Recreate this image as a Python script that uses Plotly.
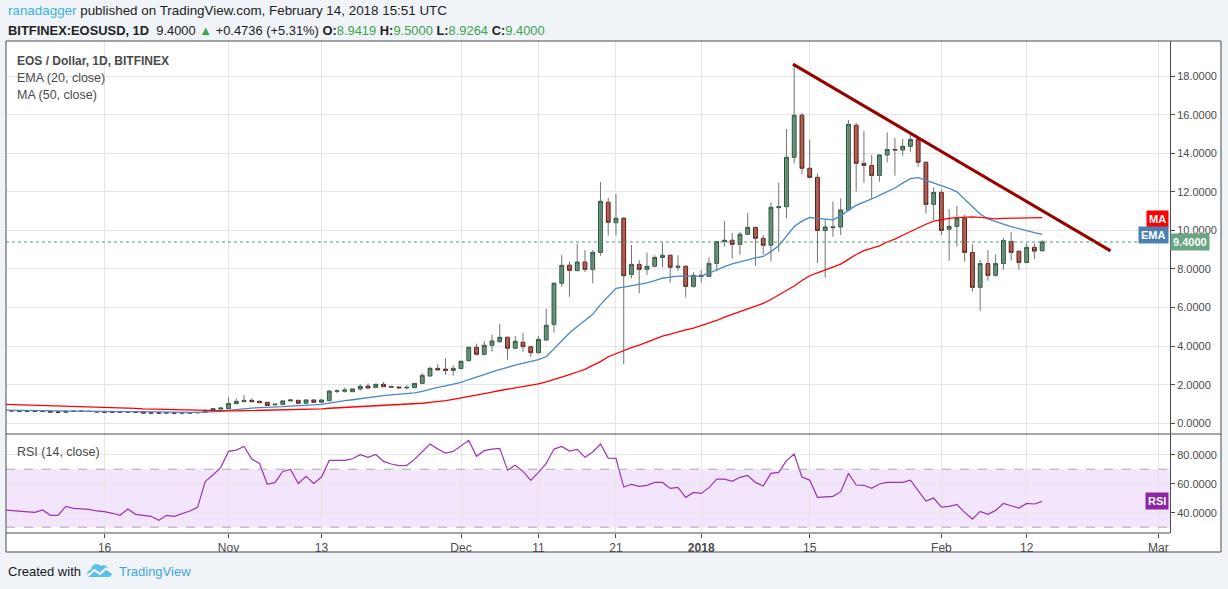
import pandas as pd
import plotly.graph_objects as go

# ---------------- data ----------------
start_date = "2017-10-03"

opens = [0.66, 0.66, 0.62, 0.63, 0.63, 0.61, 0.62, 0.59, 0.57, 0.63,
         0.62, 0.62, 0.61, 0.59, 0.59, 0.59, 0.58, 0.59, 0.59, 0.54,
         0.54, 0.53, 0.54, 0.53, 0.53, 0.54, 0.57, 0.67, 0.74, 0.76,
         1.02, 1.12, 1.19, 1.14, 1.09, 0.96, 0.98, 1.16, 1.19, 1.04,
         1.21, 1.09, 1.17, 1.66, 1.66, 1.64, 1.78, 1.93, 1.85, 2.02,
         1.90, 1.88, 1.84, 1.85, 2.07, 2.45, 2.85, 2.81, 2.74, 2.84,
         3.25, 3.94, 3.58, 4.04, 4.23, 4.46, 3.89, 4.20, 3.97, 3.66,
         4.32, 5.13, 7.26, 8.20, 7.91, 8.36, 7.98, 8.86, 11.46, 10.40,
         10.63, 7.72, 8.24, 7.98, 8.14, 8.60, 8.71, 8.09, 8.14, 7.10,
         7.67, 7.62, 8.29, 9.42, 9.49, 9.28, 9.80, 10.16, 9.59, 9.23,
         11.18, 11.23, 13.79, 15.97, 13.22, 12.75, 9.99, 10.14, 10.18, 11.06,
         15.45, 13.48, 13.37, 12.85, 13.91, 14.20, 14.17, 14.36, 14.72, 13.53,
         11.35, 11.97, 10.06, 10.21, 10.63, 8.86, 7.05, 8.28, 7.67, 8.28,
         9.43, 8.92, 8.34, 9.12, 8.9419]
highs = [0.68, 0.68, 0.64, 0.64, 0.64, 0.64, 0.63, 0.60, 0.63, 0.64,
         0.64, 0.63, 0.62, 0.60, 0.60, 0.60, 0.60, 0.60, 0.60, 0.55,
         0.55, 0.55, 0.55, 0.55, 0.55, 0.57, 0.68, 0.79, 0.81, 1.35,
         1.29, 1.46, 1.29, 1.17, 1.10, 1.00, 1.17, 1.26, 1.22, 1.23,
         1.23, 1.23, 1.72, 1.76, 1.86, 1.80, 2.02, 2.07, 2.05, 2.14,
         1.96, 1.90, 1.98, 2.09, 2.60, 2.93, 3.07, 3.37, 3.00, 3.27,
         3.97, 4.13, 4.27, 4.59, 5.15, 4.50, 4.53, 4.68, 4.00, 4.53,
         5.93, 7.30, 8.72, 8.38, 9.31, 8.98, 8.98, 12.51, 11.68, 11.89,
         10.70, 9.24, 8.47, 8.85, 8.71, 9.38, 8.75, 8.71, 8.20, 7.83,
         7.95, 8.60, 9.45, 10.49, 9.87, 9.92, 10.90, 10.20, 9.76, 11.46,
         12.47, 15.26, 18.61, 16.10, 14.69, 12.96, 10.57, 11.49, 11.66, 15.72,
         15.57, 15.15, 13.91, 13.95, 15.08, 14.79, 14.74, 14.95, 14.75, 13.60,
         12.23, 12.13, 11.11, 11.27, 10.80, 9.28, 8.47, 8.98, 8.76, 9.61,
         9.92, 8.95, 9.33, 9.33, 9.50]
lows = [0.64, 0.62, 0.61, 0.61, 0.61, 0.60, 0.57, 0.56, 0.56, 0.61,
        0.61, 0.60, 0.58, 0.57, 0.57, 0.57, 0.57, 0.57, 0.52, 0.52,
        0.52, 0.52, 0.52, 0.52, 0.52, 0.53, 0.56, 0.65, 0.72, 0.75,
        0.98, 1.10, 1.08, 1.05, 0.92, 0.94, 0.96, 1.14, 1.02, 1.02,
        1.07, 1.07, 1.15, 1.56, 1.59, 1.62, 1.69, 1.80, 1.83, 1.87,
        1.84, 1.82, 1.75, 1.84, 2.03, 2.43, 2.73, 2.52, 2.47, 2.80,
        3.21, 3.51, 3.51, 3.71, 4.18, 3.30, 3.85, 3.71, 3.45, 3.62,
        4.28, 4.70, 7.08, 6.56, 7.90, 7.84, 7.26, 8.69, 9.73, 9.73,
        3.06, 7.52, 6.74, 7.69, 8.09, 8.09, 7.29, 7.91, 6.53, 7.03,
        7.29, 7.60, 7.88, 9.16, 8.53, 8.74, 9.78, 8.17, 8.76, 8.38,
        8.90, 10.63, 13.48, 12.91, 12.70, 8.31, 7.55, 9.67, 9.76, 11.00,
        12.01, 12.47, 11.63, 12.53, 13.53, 12.84, 13.87, 14.08, 13.30, 10.87,
        10.54, 9.76, 8.43, 9.16, 8.38, 6.82, 5.84, 7.39, 7.60, 7.95,
        8.43, 7.96, 8.30, 8.52, 8.9264]
closes = [0.65, 0.64, 0.63, 0.62, 0.62, 0.62, 0.58, 0.57, 0.62, 0.62,
          0.63, 0.61, 0.59, 0.58, 0.58, 0.58, 0.59, 0.58, 0.53, 0.53,
          0.53, 0.54, 0.53, 0.54, 0.54, 0.56, 0.67, 0.76, 0.79, 1.03,
          1.14, 1.19, 1.12, 1.07, 0.93, 0.99, 1.16, 1.21, 1.04, 1.21,
          1.09, 1.21, 1.67, 1.68, 1.73, 1.78, 1.92, 1.83, 2.02, 1.90,
          1.88, 1.84, 1.86, 2.07, 2.49, 2.85, 2.77, 2.74, 2.85, 3.21,
          3.94, 3.58, 4.04, 4.27, 4.46, 3.89, 4.25, 3.97, 3.66, 4.35,
          5.08, 7.26, 8.19, 7.93, 8.36, 7.98, 8.86, 11.51, 10.42, 10.63,
          7.65, 8.24, 7.98, 8.14, 8.60, 8.71, 8.09, 8.14, 7.10, 7.67,
          7.62, 8.29, 9.42, 9.49, 9.28, 9.80, 10.16, 9.59, 9.23, 11.20,
          11.23, 13.79, 15.97, 13.22, 12.75, 10.00, 10.18, 10.18, 11.06, 15.50,
          13.48, 13.37, 12.85, 13.91, 14.20, 14.17, 14.36, 14.72, 13.53, 11.35,
          11.97, 10.00, 10.21, 10.63, 8.86, 7.05, 8.28, 7.67, 8.28, 9.47,
          8.86, 8.34, 9.12, 8.9264, 9.40]
ema20 = [0.68, 0.67, 0.66, 0.66, 0.65, 0.65, 0.64, 0.63, 0.63, 0.63,
         0.63, 0.62, 0.62, 0.61, 0.61, 0.61, 0.60, 0.60, 0.59, 0.59,
         0.58, 0.58, 0.58, 0.57, 0.57, 0.57, 0.58, 0.60, 0.62, 0.67,
         0.72, 0.76, 0.79, 0.81, 0.82, 0.84, 0.86, 0.89, 0.90, 0.93,
         0.95, 0.98, 1.05, 1.11, 1.17, 1.22, 1.28, 1.33, 1.38, 1.43,
         1.47, 1.50, 1.53, 1.58, 1.66, 1.77, 1.86, 1.94, 2.02, 2.12,
         2.27, 2.38, 2.52, 2.66, 2.80, 2.90, 3.02, 3.12, 3.20, 3.30,
         3.45, 3.85, 4.30, 4.68, 5.02, 5.32, 5.65, 6.15, 6.60, 7.00,
         7.06, 7.14, 7.20, 7.28, 7.40, 7.52, 7.58, 7.63, 7.63, 7.62,
         7.63, 7.78, 7.97, 8.12, 8.26, 8.38, 8.50, 8.58, 8.65, 8.90,
         9.20, 9.70, 10.20, 10.48, 10.67, 10.62, 10.58, 10.55, 10.75, 11.05,
         11.30, 11.45, 11.63, 11.82, 12.00, 12.20, 12.45, 12.68, 12.74, 12.60,
         12.48, 12.33, 12.18, 12.00, 11.62, 11.20, 10.85, 10.60, 10.45, 10.33,
         10.20, 10.08, 9.96, 9.88, 9.80]
ma50 = [0.98, 0.97, 0.96, 0.95, 0.93, 0.92, 0.91, 0.89, 0.88, 0.86,
        0.85, 0.84, 0.82, 0.81, 0.80, 0.79, 0.78, 0.77, 0.75, 0.74,
        0.72, 0.71, 0.69, 0.68, 0.66, 0.65, 0.64, 0.64, 0.64, 0.64,
        0.64, 0.65, 0.65, 0.65, 0.66, 0.66, 0.67, 0.68, 0.69, 0.71,
        0.73, 0.75, 0.78, 0.80, 0.82, 0.84, 0.86, 0.88, 0.89, 0.90,
        0.92, 0.94, 0.97, 1.00, 1.04, 1.08, 1.12, 1.17, 1.24, 1.31,
        1.38, 1.45, 1.53, 1.62, 1.70, 1.77, 1.84, 1.90, 1.96, 2.04,
        2.15, 2.26, 2.38, 2.52, 2.66, 2.80, 3.00, 3.20, 3.45, 3.62,
        3.76, 3.92, 4.05, 4.20, 4.38, 4.52, 4.62, 4.74, 4.84, 4.93,
        5.05, 5.18, 5.33, 5.50, 5.64, 5.78, 5.95, 6.08, 6.22, 6.42,
        6.65, 6.88, 7.12, 7.40, 7.65, 7.80, 7.95, 8.10, 8.25, 8.50,
        8.75, 8.95, 9.07, 9.20, 9.40, 9.55, 9.75, 9.95, 10.15, 10.32,
        10.48, 10.56, 10.62, 10.66, 10.68, 10.70, 10.68, 10.63, 10.60, 10.62,
        10.63, 10.61, 10.62, 10.64, 10.66]
rsi14 = [41.9, 41.5, 41.0, 40.8, 40.3, 41.9, 38.2, 38.2, 44.4, 43.0,
         42.6, 42.3, 41.2, 40.7, 39.6, 38.2, 42.6, 38.9, 38.2, 37.5,
         34.8, 38.2, 37.5, 39.1, 41.2, 43.7, 61.6, 66.0, 71.3, 82.3,
         83.2, 85.7, 77.0, 74.0, 59.6, 60.9, 68.5, 69.9, 60.2, 65.1,
         60.2, 64.6, 76.1, 76.1, 76.1, 77.2, 80.0, 78.2, 80.2, 75.4,
         73.6, 72.5, 72.7, 76.8, 82.0, 87.4, 83.9, 81.1, 82.3, 86.0,
         89.9, 78.9, 82.8, 83.9, 84.4, 69.4, 72.7, 68.5, 62.3, 67.8,
         74.0, 83.9, 85.7, 82.5, 83.7, 78.2, 81.9, 87.4, 77.7, 77.5,
         57.7, 59.6, 58.2, 58.9, 60.9, 60.9, 56.8, 57.5, 50.6, 54.0,
         53.3, 57.3, 63.2, 63.2, 61.6, 64.4, 65.7, 60.9, 58.4, 67.1,
         67.8, 75.9, 80.5, 64.6, 62.5, 50.6, 51.0, 51.3, 54.5, 67.1,
         59.1, 58.9, 56.8, 59.8, 60.9, 60.9, 60.9, 62.5, 55.6, 48.0,
         50.1, 43.9, 44.4, 45.7, 40.2, 35.6, 40.9, 38.9, 41.6, 46.4,
         44.8, 43.2, 46.4, 46.0, 47.8]

tick_dates = ["2017-10-16", "2017-11-01", "2017-11-13", "2017-12-01", "2017-12-11",
              "2017-12-21", "2018-01-01", "2018-01-15", "2018-02-01", "2018-02-12",
              "2018-03-01"]
tick_labels = ["16", "Nov", "13", "Dec", "11", "21", "<b>2018</b>", "15", "Feb", "12", "Mar"]
price_ticks = [0, 2, 4, 6, 8, 10, 12, 14, 16, 18]
rsi_ticks = [40, 60, 80]
rsi_bands = [30, 70]
trend_x = ["2018-01-12 20:00", "2018-02-22 20:00"]
trend_y = [18.62, 8.94]
last_price = 9.40

dates = pd.date_range(start_date, periods=len(closes), freq="D")

# ---------------- geometry helpers (pixel -> paper) ----------------
W, H = 1228, 589
L, R, T, B = 6, 58, 41, 56
PW, PH = W - L - R, H - T - B


def px(xp):
    return (xp - L) / PW


def py(yp):
    return 1 - (yp - T) / PH


split = py(434)

UP_FILL, UP_LINE = "#6ba583", "#225437"
DN_FILL, DN_LINE = "#d75442", "#5b1a13"
WICK = "#737375"
EMA_C = "#4a86c4"
MA_C = "#ff0000"
RSI_C = "#9c33b8"
GRID = "#e6e6e6"
AXIS = "#4d4d4d"
TXT = "#4a4a4a"
GREEN_TXT = "#3fa34d"

fig = go.Figure()

# wicks
wx, wy = [], []
for d, lo, hi in zip(dates, lows, highs):
    wx += [d, d, None]
    wy += [lo, hi, None]
fig.add_trace(go.Scatter(x=wx, y=wy, mode="lines", line=dict(color=WICK, width=1),
                         hoverinfo="skip", showlegend=False, xaxis="x", yaxis="y"))

# bodies
body_hi = [max(o, c) for o, c in zip(opens, closes)]
body_lo = [min(o, c) for o, c in zip(opens, closes)]
fig.add_trace(go.Candlestick(
    x=dates, open=opens, high=body_hi, low=body_lo, close=closes,
    increasing=dict(fillcolor=UP_FILL, line=dict(color=UP_LINE, width=1)),
    decreasing=dict(fillcolor=DN_FILL, line=dict(color=DN_LINE, width=1)),
    whiskerwidth=0, showlegend=False, xaxis="x", yaxis="y"))

fig.add_trace(go.Scatter(x=dates, y=ema20, mode="lines", line=dict(color=EMA_C, width=1.3),
                         showlegend=False, xaxis="x", yaxis="y"))
fig.add_trace(go.Scatter(x=dates, y=ma50, mode="lines", line=dict(color=MA_C, width=1.3),
                         showlegend=False, xaxis="x", yaxis="y"))
fig.add_trace(go.Scatter(x=pd.to_datetime(trend_x), y=trend_y, mode="lines",
                         line=dict(color="#960000", width=3),
                         showlegend=False, xaxis="x", yaxis="y"))
fig.add_trace(go.Scatter(x=dates, y=rsi14, mode="lines", line=dict(color=RSI_C, width=1.2),
                         showlegend=False, xaxis="x", yaxis="y2"))

shapes = []
# white chart card
shapes.append(dict(type="rect", xref="paper", yref="paper", x0=px(6), x1=px(1221),
                   y0=py(552), y1=py(41), fillcolor="white", line=dict(width=0), layer="below"))
# rsi band
shapes.append(dict(type="rect", xref="x domain", yref="y2", x0=0, x1=1, y0=rsi_bands[0],
                   y1=rsi_bands[1], fillcolor="#f3e6fc", line=dict(width=0), layer="below"))
for b in rsi_bands:
    shapes.append(dict(type="line", xref="x domain", yref="y2", x0=0, x1=1, y0=b, y1=b,
                       line=dict(color="#aaa4b0", width=1, dash="dash")))
# last price dotted line
shapes.append(dict(type="line", xref="x domain", yref="y", x0=0, x1=1, y0=last_price,
                   y1=last_price, line=dict(color="#4f9a6c", width=1, dash="dot")))
# frame
shapes.append(dict(type="rect", xref="paper", yref="paper", x0=px(6), x1=px(1221),
                   y0=py(552), y1=py(41), line=dict(color=AXIS, width=1)))
shapes.append(dict(type="line", xref="paper", yref="paper", x0=px(6), x1=px(1221),
                   y0=py(434), y1=py(434), line=dict(color=AXIS, width=1)))
shapes.append(dict(type="line", xref="paper", yref="paper", x0=px(6), x1=px(1170),
                   y0=py(533), y1=py(533), line=dict(color=AXIS, width=1)))


def path(points, close=True):
    s = "M " + " L ".join(f"{px(a):.5f},{py(b):.5f}" for a, b in points)
    return s + (" Z" if close else "")


# TradingView logo (cloud + zigzag)
cloud = [(89, 577), (87, 574), (88, 571), (91, 569.5), (92, 566.5), (95, 564), (99, 564.5),
         (101, 566), (104, 565), (107, 566.5), (108.5, 569.5), (111, 571), (112, 574),
         (110, 577)]
shapes.append(dict(type="path", xref="paper", yref="paper", path=path(cloud),
                   fillcolor="#5cc0ea", line=dict(width=0)))
shapes.append(dict(type="path", xref="paper", yref="paper",
                   path=path([(88, 575.5), (94.5, 570), (100, 574), (106, 568.5), (112, 572.5)], close=False),
                   line=dict(color="white", width=2)))

ann = []
FONT = "Liberation Sans"
ann.append(dict(x=px(6), y=py(11), xref="paper", yref="paper", xanchor="left", yanchor="middle",
                showarrow=False,
                text="<span style='color:#3bb3e4'>ranadagger</span> published on TradingView.com, "
                     "February 14, 2018 15:51 UTC",
                font=dict(family=FONT, size=13.4, color="#222222")))
g = lambda s: f"<span style='color:{GREEN_TXT}'>{s}</span>"
ann.append(dict(x=px(6), y=py(30.5), xref="paper", yref="paper", xanchor="left", yanchor="middle",
                showarrow=False,
                text="<b>BITFINEX:EOSUSD, 1D</b>  9.4000 " + g("▲") + " +0.4736 (+5.31%) "
                     "<b>O:</b>" + g("8.9419") + " <b>H:</b>" + g("9.5000") + " <b>L:</b>"
                     + g("8.9264") + " <b>C:</b>" + g("9.4000"),
                font=dict(family=FONT, size=12.9, color="#222222")))
ann.append(dict(x=px(15), y=py(60.5), xref="paper", yref="paper", xanchor="left", yanchor="middle",
                showarrow=False, text="<b>EOS / Dollar, 1D, BITFINEX</b>",
                font=dict(family=FONT, size=12, color=TXT)))
ann.append(dict(x=px(15), y=py(78), xref="paper", yref="paper", xanchor="left", yanchor="middle",
                showarrow=False, text="EMA (20, close)", font=dict(family=FONT, size=12.5, color=TXT)))
ann.append(dict(x=px(15), y=py(95), xref="paper", yref="paper", xanchor="left", yanchor="middle",
                showarrow=False, text="MA (50, close)", font=dict(family=FONT, size=12.5, color=TXT)))
ann.append(dict(x=px(15), y=py(452), xref="paper", yref="paper", xanchor="left", yanchor="middle",
                showarrow=False, text="RSI (14, close)", font=dict(family=FONT, size=12.5, color=TXT)))

# right-side labels
ann.append(dict(x=px(1169), y=py(219), xref="paper", yref="paper", xanchor="right", yanchor="middle",
                showarrow=False, text="<b>MA</b>", bgcolor="#ff0000", borderpad=2,
                font=dict(family=FONT, size=11, color="white")))
ann.append(dict(x=px(1169), y=py(235), xref="paper", yref="paper", xanchor="right", yanchor="middle",
                showarrow=False, text="<b>EMA</b>", bgcolor="#4a7fb3", borderpad=2,
                font=dict(family=FONT, size=11, color="white")))
ann.append(dict(x=px(1170), y=last_price, xref="paper", yref="y", xanchor="left", yanchor="middle",
                showarrow=False, text="<b>9.4000</b>", bgcolor="#6ba583", borderpad=2,
                font=dict(family=FONT, size=11, color="white")))
ann.append(dict(x=px(1169), y=rsi14[-1], xref="paper", yref="y2", xanchor="right", yanchor="middle",
                showarrow=False, text="<b>RSI</b>", bgcolor="#8e24a6", borderpad=2,
                font=dict(family=FONT, size=11, color="white")))

# footer
ann.append(dict(x=px(6), y=py(571.5), xref="paper", yref="paper", xanchor="left", yanchor="middle",
                showarrow=False, text="Created with", font=dict(family=FONT, size=13, color="#131722")))
ann.append(dict(x=px(117), y=py(571.5), xref="paper", yref="paper", xanchor="left", yanchor="middle",
                showarrow=False, text="TradingView", font=dict(family=FONT, size=13, color="#3ea9de")))

tickfont = dict(family=FONT, size=11, color=TXT)
fig.update_layout(
    width=W, height=H,
    margin=dict(l=L, r=R, t=T, b=B, pad=0),
    paper_bgcolor="#f0f3f7",
    plot_bgcolor="white",
    showlegend=False,
    hovermode=False,
    xaxis=dict(domain=[0, 1], anchor="y2", type="date",
               range=["2017-10-03 06:43", "2018-03-02 12:00"],
               tickvals=pd.to_datetime(tick_dates), ticktext=tick_labels,
               ticks="outside", ticklen=4, tickcolor=AXIS, tickfont=dict(family=FONT, size=12, color=TXT),
               showgrid=True, gridcolor=GRID, gridwidth=1, showline=False, zeroline=False,
               rangeslider=dict(visible=False)),
    yaxis=dict(domain=[split, 1], anchor="x", side="right", range=[-0.555, 19.82],
               tickvals=price_ticks, tickformat=".4f", ticks="outside", ticklen=4, tickcolor=AXIS,
               tickfont=tickfont, showgrid=True, gridcolor=GRID, showline=True, linecolor=AXIS,
               zeroline=False),
    yaxis2=dict(domain=[0, split], anchor="x", side="right", range=[26.0, 94.3],
                tickvals=rsi_ticks, tickformat=".4f", ticks="outside", ticklen=4, tickcolor=AXIS,
                tickfont=tickfont, showgrid=True, gridcolor=GRID, showline=True, linecolor=AXIS,
                zeroline=False),
    shapes=shapes,
    annotations=ann,
)

fig.write_html("out.html", config={"displayModeBar": False, "staticPlot": True},
               post_script="document.body.style.margin='0px';document.body.style.overflow='hidden';"
                           "document.body.style.background='#f0f3f7';")
